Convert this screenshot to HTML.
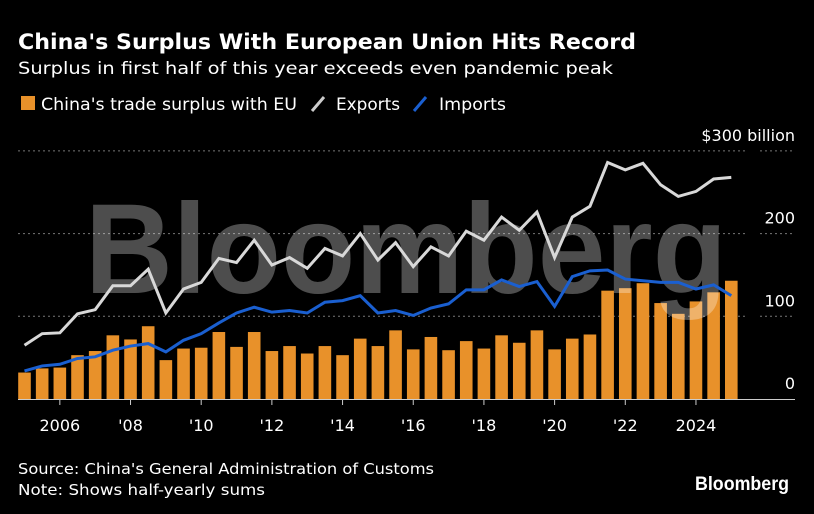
<!DOCTYPE html>
<html><head><meta charset="utf-8"><style>
html,body{margin:0;padding:0;background:#000;}
svg{display:block;font-family:"DejaVu Sans","Liberation Sans",sans-serif;}
</style></head><body>
<svg id="chart" width="814" height="514" viewBox="0 0 814 514">
<rect width="814" height="514" fill="#000"/>
<text x="18" y="49" fill="#fff" font-weight="bold" font-size="21" textLength="618" lengthAdjust="spacingAndGlyphs">China's Surplus With European Union Hits Record</text>
<text x="18" y="74" fill="#fff" font-size="17" textLength="595" lengthAdjust="spacingAndGlyphs">Surplus in first half of this year exceeds even pandemic peak</text>
<g>
<g><rect x="21" y="96" width="14" height="14" fill="#e8912a"/><text x="41" y="110" fill="#fff" font-size="17" textLength="256" lengthAdjust="spacingAndGlyphs">China's trade surplus with EU</text></g>
<g><line x1="312" y1="111" x2="324" y2="97" stroke="#ccc" stroke-width="3"/><text x="336" y="110" fill="#fff" font-size="17" textLength="64" lengthAdjust="spacingAndGlyphs">Exports</text></g>
<g><line x1="414" y1="111" x2="426" y2="97" stroke="#1a5fd0" stroke-width="3"/><text x="439" y="110" fill="#fff" font-size="17" textLength="67" lengthAdjust="spacingAndGlyphs">Imports</text></g>
</g>
<g id="grid"></g>
<g id="bars"></g>
<text x="406" y="293" fill="#fff" fill-opacity="0.3" font-family="Liberation Sans, sans-serif" font-weight="bold" font-size="128" text-anchor="middle" textLength="642" lengthAdjust="spacingAndGlyphs">Bloomberg</text>
<g id="lines"></g>
<g id="xaxis"></g>
<text x="18" y="474" fill="#fff" font-size="15" textLength="416" lengthAdjust="spacingAndGlyphs">Source: China's General Administration of Customs</text>
<text x="18" y="495" fill="#fff" font-size="15" textLength="247" lengthAdjust="spacingAndGlyphs">Note: Shows half-yearly sums</text>
<text x="789" y="490" fill="#fff" font-family="Liberation Sans, sans-serif" font-weight="bold" font-size="19" text-anchor="end" textLength="94" lengthAdjust="spacingAndGlyphs">Bloomberg</text>
</svg>
<script>
const surplus = [32,37,38,53,58,77,72,88,47,61,62,81,63,81,58,64,55,64,53,73,64,83,60,75,59,70,61,77,68,83,60,73,78,131,134,140,116,103,118,129,143];
const exportsV = [65,79,80,103,108,137,137,157,104,133,141,170,165,192,162,171,158,182,173,200,168,189,160,184,173,203,192,220,204,226,171,220,233,286,277,285,259,245,251,266,268];
const importsV = [34,40,42,49,51,59,64,67,57,71,79,92,104,111,105,107,104,117,119,125,104,107,101,110,115,132,132,144,136,142,112,148,155,156,145,143,141,141,133,138,125];
const yTicks = [0,100,200,300];
const yTickLabels = ["0","100","200","$300 billion"];
const xTickYears = [2006,2008,2010,2012,2014,2016,2018,2020,2022,2024];
const xTickLabels = ["2006","'08","'10","'12","'14","'16","'18","'20","'22","2024"];
const startYear = 2005;

const NS = "http://www.w3.org/2000/svg";
const x = i => 24.5 + 17.67 * i;
const y = v => 399 - v * 0.827;
function mk(tag, attrs, parent){const e=document.createElementNS(NS,tag);for(const k in attrs)e.setAttribute(k,attrs[k]);parent.appendChild(e);return e;}

const grid = document.getElementById('grid');
yTicks.forEach((t,k)=>{
  if(t>0){
    const g1 = mk('line',{x1:18,x2:747,y1:y(t),y2:y(t),stroke:'#777','stroke-width':1,'stroke-dasharray':'2,3'},grid);
    
    
    const g2 = mk('line',{x1:760,x2:795,y1:y(t),y2:y(t),stroke:'#777','stroke-width':1,'stroke-dasharray':'2,3'},grid);
    
    
  }
  const lb = mk('text',{x:795,y:y(t)-10,fill:'#fff','font-size':16,'text-anchor':'end'},grid);
  lb.textContent = yTickLabels[k];
  
  
});

const bars = document.getElementById('bars');
surplus.forEach((v,i)=>{
  const r = mk('rect',{x:x(i)-6.3,y:y(v),width:12.6,height:y(0)-y(v),fill:'#e8912a'},bars);
  
  
});

const lines = document.getElementById('lines');
function line(vals,color,name){
  const p = mk('polyline',{points:vals.map((v,i)=>x(i)+','+y(v)).join(' '),fill:'none',stroke:color,'stroke-width':3,'stroke-linejoin':'miter'},lines);
  
  
}
line(importsV,'#1a5fd0','imports-line');
line(exportsV,'#d8d8d8','exports-line');

const xa = document.getElementById('xaxis');
const base = mk('line',{x1:18,x2:795,y1:399.5,y2:399.5,stroke:'#ccc','stroke-width':1},xa);


xTickYears.forEach((yr,k)=>{
  const xi = x((yr-startYear)*2);
  const t = mk('line',{x1:xi,x2:xi,y1:400,y2:405,stroke:'#ccc','stroke-width':1},xa);
  
  
  const lb = mk('text',{x:xi,y:431,fill:'#fff','font-size':16,'text-anchor':'middle'},xa);
  lb.textContent = xTickLabels[k];
  
  
});
</script>
</body></html>
